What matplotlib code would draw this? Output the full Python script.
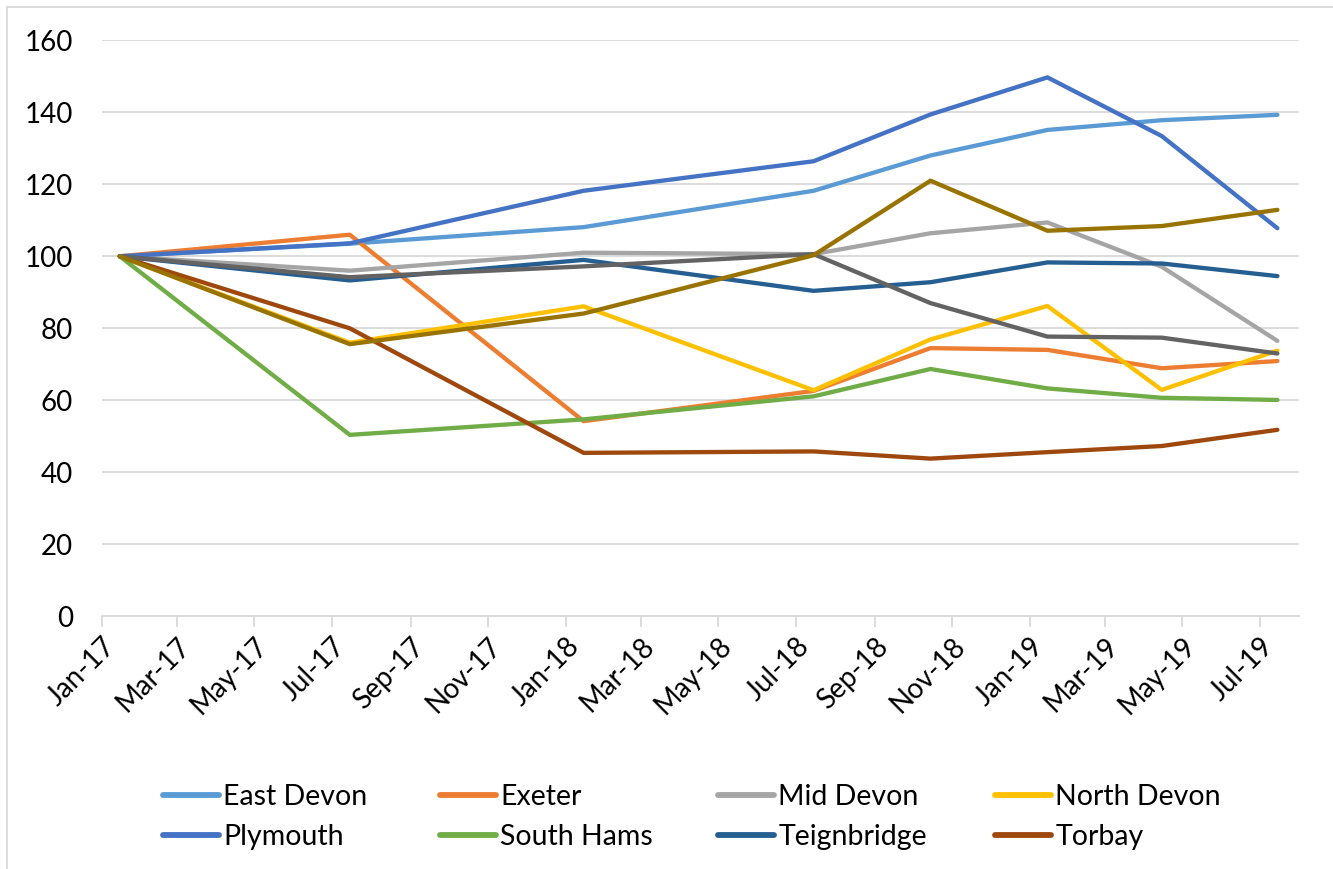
import matplotlib
matplotlib.use("Agg")
import matplotlib.pyplot as plt
import matplotlib.dates as mdates
from matplotlib.lines import Line2D
import numpy as np

# Survey dates (mid-month points, Excel date axis)
DATES = np.array(["2017-01-15", "2017-07-15", "2018-01-15", "2018-07-15",
                  "2018-10-15", "2019-01-15", "2019-04-15", "2019-07-15"],
                 dtype="datetime64[D]")

EAST_DEVON = [100, 103.5, 108.1, 118.2, 128.0, 135.1, 137.8, 139.3]
EXETER = [100, 106.0, 54.2, 62.6, 74.5, 74.0, 68.9, 70.9]
MID_DEVON = [100, 96.0, 101.0, 100.6, 106.4, 109.4, 97.1, 76.5]
NORTH_DEVON = [100, 76.0, 86.1, 62.8, 76.9, 86.2, 62.9, 73.8]
PLYMOUTH = [100, 103.6, 118.2, 126.4, 139.4, 149.7, 133.4, 107.8]
SOUTH_HAMS = [100, 50.4, 54.7, 61.1, 68.7, 63.3, 60.7, 60.1]
TEIGNBRIDGE = [100, 93.3, 99.0, 90.4, 92.8, 98.3, 98.0, 94.5]
TORBAY = [100, 80.0, 45.4, 45.8, 43.8, 45.6, 47.3, 51.8]
TORRIDGE = [100, 94.2, 97.2, 100.6, 87.0, 77.7, 77.4, 73.0]
WEST_DEVON = [100, 75.6, 84.1, 100.3, 121.0, 107.1, 108.4, 112.9]

SERIES = [
    ("East Devon", EAST_DEVON, "#5B9BD5"),
    ("Exeter", EXETER, "#ED7D31"),
    ("Mid Devon", MID_DEVON, "#A5A5A5"),
    ("North Devon", NORTH_DEVON, "#FFC000"),
    ("Plymouth", PLYMOUTH, "#4472C4"),
    ("South Hams", SOUTH_HAMS, "#70AD47"),
    ("Teignbridge", TEIGNBRIDGE, "#255E91"),
    ("Torbay", TORBAY, "#9E480E"),
    ("Torridge", TORRIDGE, "#636363"),
    ("West Devon", WEST_DEVON, "#997300"),
]
N_LEGEND = 8  # only the first 8 entries fit in the legend box

plt.rcParams["font.family"] = ["Lato", "DejaVu Sans"]

W, H = 1333, 869
fig = plt.figure(figsize=(W / 100, H / 100), dpi=100)
ax = fig.add_axes([102 / W, 1 - 616.3 / H, (1299 - 102) / W, (616.3 - 40.3) / H])

handles = []
for name, vals, color in SERIES:
    (h,) = ax.plot(DATES, vals, color=color, linewidth=3.1,
                   solid_joinstyle="round", solid_capstyle="round", label=name)
    handles.append(h)

ax.set_ylim(0, 160)
ax.set_yticks(range(0, 161, 20))
ax.set_xlim(np.datetime64("2017-01-01"), np.datetime64("2019-08-01"))
ax.xaxis.set_major_locator(mdates.MonthLocator(bymonth=[1, 3, 5, 7, 9, 11]))
ax.xaxis.set_major_formatter(mdates.DateFormatter("%b-%y"))

grid_col = "#D9D9D9"
ax.grid(axis="y", color=grid_col, linewidth=1.3)
ax.set_axisbelow(True)
for side in ["top", "right", "left"]:
    ax.spines[side].set_visible(False)
ax.spines["bottom"].set_color(grid_col)
ax.spines["bottom"].set_linewidth(1.3)
ax.tick_params(axis="y", length=0, pad=21, labelsize=20, labelcolor="#000000")
ax.tick_params(axis="x", length=8, width=1.3, color=grid_col, pad=4,
               labelsize=20, labelcolor="#000000")
for lbl in ax.get_xticklabels():
    lbl.set_rotation(45)
    lbl.set_ha("right")
    lbl.set_rotation_mode("anchor")

# legend: 4 equal-width columns, 2 rows
col_x = [163, 440, 718, 995]
for i, x in enumerate(col_x):
    leg = fig.legend(handles=[handles[i], handles[i + 4]], loc="upper left",
                     bbox_to_anchor=(x / W, 1 - 784 / H), frameon=False,
                     fontsize=20.5, handlelength=1.95, handletextpad=0.17,
                     labelspacing=0.5, borderaxespad=0, borderpad=0)
    for lh in leg.legend_handles:
        lh.set_linewidth(4.2)
        lh.set_solid_capstyle("round")

# chart area border (only left/top visible in crop)
bc = "#D9D9D9"
fig.add_artist(Line2D([7 / W, 7 / W], [0, 1 - 7 / H], color=bc, linewidth=1.3))
fig.add_artist(Line2D([7 / W, 1], [1 - 7 / H, 1 - 7 / H], color=bc, linewidth=1.3))

fig.savefig("out.png", dpi=100)
